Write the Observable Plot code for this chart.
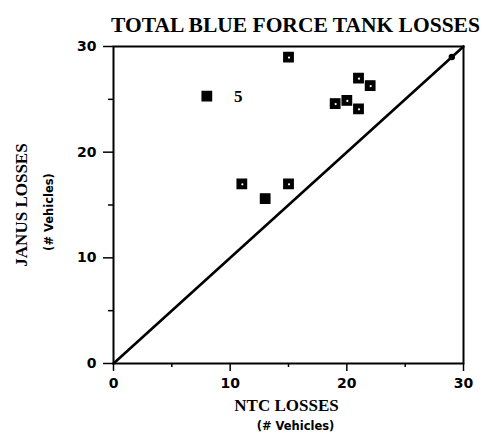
<!DOCTYPE html>
<html>
<head>
<meta charset="utf-8">
<script src="https://cdn.jsdelivr.net/npm/d3@7"></script>
<script src="https://cdn.jsdelivr.net/npm/@observablehq/plot@0.6"></script>
<style>
  html, body { margin: 0; padding: 0; background: #fff; }
  #chart svg { display: block; }
</style>
</head>
<body>
<div id="chart"></div>
<script>
// Data
const title = "TOTAL BLUE FORCE TANK LOSSES";
const xTitle = "NTC LOSSES";
const yTitle = "JANUS LOSSES";
const unitTitle = "(# Vehicles)";
const ntcLosses   = [15, 8,    11, 15, 13,   21, 22,   19,   20,   21,   29];
const janusLosses = [29, 25.3, 17, 17, 15.6, 27, 26.3, 24.6, 24.9, 24.1, 29];
const marked      = [true, false, true, true, false, true, true, true, true, true, false];
const onDiagonal  = [false, false, false, false, false, false, false, false, false, false, true];
const annotX = [10.7];
const annotY = [25.3];
const annotText = ["5"];
const diagX = [0, 30];
const diagY = [0, 30];
const majorTicks = [0, 10, 20, 30];
const minorTicks = [5, 15, 25];

const pts = ntcLosses.map((x, i) => ({x, y: janusLosses[i], marked: marked[i], diag: onDiagonal[i]}));
const squares = pts.filter(d => !d.diag);
const whiteMarks = pts.filter(d => d.marked);
const smallDots = pts.filter(d => d.diag);

const serif = "'Liberation Serif', 'Times New Roman', serif";
const sans = "'DejaVu Sans', sans-serif";

const chart = Plot.plot({
  width: 486,
  height: 445,
  marginLeft: 113,
  marginRight: 23,
  marginTop: 46,
  marginBottom: 82,
  x: {domain: [0, 30]},
  y: {domain: [0, 30]},
  style: {background: "#fff", color: "#000"},
  marks: [
    Plot.axisX({ticks: majorTicks, tickSize: 8, tickPadding: 7, fontSize: 14, fontWeight: "bold", fontFamily: sans, label: null, strokeWidth: 1.5}),
    Plot.axisX({ticks: minorTicks, tickSize: 4, text: null, label: null, strokeWidth: 1.5}),
    Plot.axisY({ticks: majorTicks, tickSize: 10, tickPadding: 7, fontSize: 14, fontWeight: "bold", fontFamily: sans, label: null, strokeWidth: 1.5}),
    Plot.axisY({ticks: minorTicks, tickSize: 5, text: null, label: null, strokeWidth: 1.5}),
    Plot.frame({stroke: "#000", strokeWidth: 2}),
    Plot.line(diagX.map((x, i) => ({x, y: diagY[i]})), {x: "x", y: "y", stroke: "#000", strokeWidth: 2.6}),
    Plot.dot(squares, {x: "x", y: "y", symbol: "square", r: 5.4, fill: "#000", stroke: "#000", strokeWidth: 1.2}),
    Plot.dot(whiteMarks, {x: "x", y: "y", r: 1.1, fill: "#fff", stroke: "none", dx: 0.5, dy: 0.5}),
    Plot.dot(smallDots, {x: "x", y: "y", r: 3.2, fill: "#000", stroke: "none"}),
    Plot.text(annotText.map((t, i) => ({x: annotX[i], y: annotY[i], t})), {x: "x", y: "y", text: "t", fontSize: 17, fontFamily: serif, fontWeight: "bold"}),
    Plot.text([title], {frameAnchor: "top", dy: -30, dx: 7, text: d => d, fontSize: 21.5, fontWeight: "bold", fontFamily: serif}),
    Plot.text([xTitle], {frameAnchor: "bottom", dy: 47, dx: -2, text: d => d, fontSize: 17, fontWeight: "bold", fontFamily: serif}),
    Plot.text([unitTitle], {frameAnchor: "bottom", dy: 66, dx: 7, text: d => d, fontSize: 11.5, fontWeight: "bold", fontFamily: sans}),
    Plot.text([yTitle], {frameAnchor: "left", textAnchor: "middle", dx: -92, dy: 0, rotate: -90, text: d => d, fontSize: 17, fontWeight: "bold", fontFamily: serif}),
    Plot.text([unitTitle], {frameAnchor: "left", textAnchor: "middle", dx: -64, dy: 7, rotate: -90, text: d => d, fontSize: 11.5, fontWeight: "bold", fontFamily: sans})
  ]
});
document.getElementById("chart").appendChild(chart);
</script>
</body>
</html>
